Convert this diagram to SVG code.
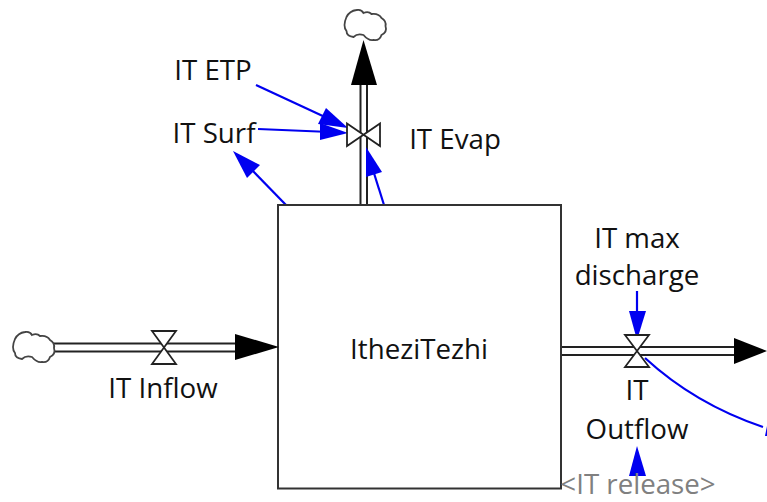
<svg xmlns="http://www.w3.org/2000/svg" width="767" height="502" viewBox="0 0 767 502">
<style>
text{font-family:"Open Sans","Noto Sans","Liberation Sans",sans-serif;font-size:27.700px;fill:#111;text-anchor:middle}
.ghost{fill:#808080}
.pipe{stroke:#222;stroke-width:2;fill:none}
.valve{stroke:#222;stroke-width:1.8;fill:#fff;stroke-linejoin:miter}
.cloud{stroke:#444;stroke-width:1.8;fill:#fff}
.link{stroke:#0000f0;stroke-width:2.2;fill:none}
.lhead{fill:#0000f0;stroke:none}
.fhead{fill:#000;stroke:none}
</style>
<defs>
<path id="cl" d="M-19,-8Q-16,-14 -9,-15Q-4,-16 -2,-12Q3,-14 6,-11Q13,-12 16,-7Q21,-4 20,1Q22,7 16,10Q14,16 8,15Q3,16 -2,10Q-8,8 -12,12Q-19,11 -19,6Q-23,1 -19,-8z"/>
</defs>
<rect width="767" height="502" fill="#fff"/>
<g id="connectors">
<path class="pipe" d="M360.500,85V205M367,85V205"/>
<path class="pipe" d="M53,343.500H236M53,351.500H236"/>
<path class="pipe" d="M561,347H736M561,355H736"/>
<path class="link" d="M256,85L340,124"/>
<path class="lhead" d="M348,128L318,124L326,108z"/>
<path class="link" d="M258,129L330,132"/>
<path class="lhead" d="M348,133L320,140L320,123z"/>
<path class="link" d="M286,205L252,170"/>
<path class="lhead" d="M233,151L260,165L247,178z"/>
<path class="link" d="M384,205L373,170"/>
<path class="lhead" d="M366,147L382,172L366,177z"/>
<path class="link" d="M637,291V320"/>
<path class="lhead" d="M637,340L629,311H646z"/>
<path class="lhead" d="M637,446L646,476H629z"/>
<path class="link" d="M645,358Q695,404 763,427"/>
<path class="lhead" d="M767,426V436H765z"/>
</g>
<g id="stock"><rect x="278" y="205" width="283" height="283.500" fill="none" stroke="#333" stroke-width="2"/><text x="419" y="359">ItheziTezhi</text></g>
<g id="cloud-top"><use href="#cl" class="cloud" transform="translate(365.500,25)"/></g>
<g id="cloud-left"><use href="#cl" class="cloud" transform="translate(34,347)"/></g>
<g id="evap"><path class="fhead" d="M363.500,40L377,85H351z"/><path class="valve" d="M347,123.500L380,146V123.500L347,146z"/><text x="455" y="149">IT Evap</text></g>
<g id="inflow"><path class="fhead" d="M279,347L235,334V360z"/><path class="valve" d="M152,331H176L152,364H176z"/><text x="163" y="398">IT Inflow</text></g>
<g id="outflow"><path class="fhead" d="M767,351L734,338V364H734z"/><path class="valve" d="M625,335H649L625,367H649z"/><text x="637" y="400">IT</text><text x="637" y="439">Outflow</text></g>
<g id="etp"><text x="213" y="80">IT ETP</text></g>
<g id="surf"><text x="214" y="143">IT Surf</text></g>
<g id="maxdis"><text x="637" y="248">IT max</text><text x="637" y="285">discharge</text></g>
<g id="release"><text class="ghost" x="638" y="494">&lt;IT release&gt;</text></g>
</svg>
